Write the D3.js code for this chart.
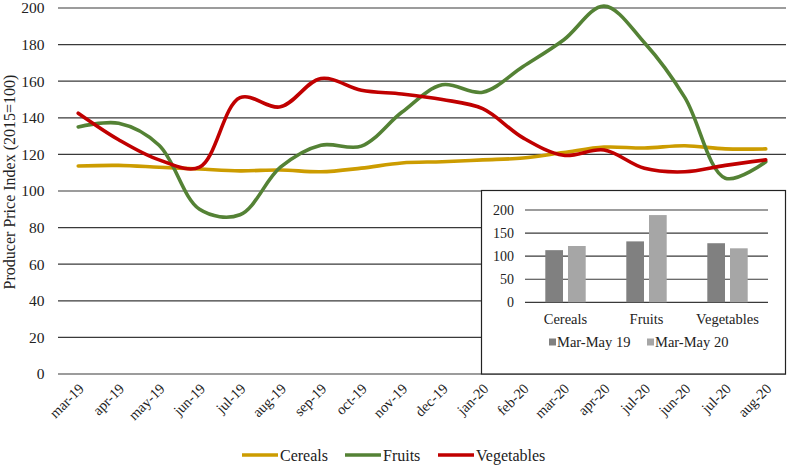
<!DOCTYPE html>
<meta charset="utf-8">
<head>
	<title>Producer Price Index</title>
	<script type="text/javascript" src="https://cdn.jsdelivr.net/npm/d3@7"></script>
	<style>
		body { margin: 0; background: #fff; }
		svg text { font-family: "Times New Roman", "Liberation Serif", Tinos, "DejaVu Serif", serif; fill: #222; }
		.grid line { stroke: #3a3a3a; stroke-width: 1.2; }
		.series { fill: none; stroke-width: 3.6; stroke-linecap: round; }
	</style>
</head>
<body>
	<div id="chart"></div>
	<script>
		// data
		var months = ["mar-19","apr-19","may-19","jun-19","jul-19","aug-19","sep-19","oct-19","nov-19",
			"dec-19","jan-20","feb-20","mar-20","apr-20","jul-20","jun-20","jul-20","aug-20"];
		var cereals = [113.7,114,113,112,111,111.5,110.5,112.5,115.3,116,117,118,121,124,123.5,124.7,123,123];
		var fruits = [135,137,125,90,87,113,125,124.5,143,158,154,168,182.5,201,181,151,107,116];
		var vegetables = [142.5,128,117,113,151,146,161.5,155,153,150,145,129,119.5,122.4,112.4,110.5,114,117];
		var yTicks = [0,20,40,60,80,100,120,140,160,180,200];

		var insetCats = ["Cereals","Fruits","Vegetables"];
		var mam19 = [113,132,128];
		var mam20 = [122,189,117];
		var insetTicks = [0,50,100,150,200];

		var series = [
			{name: "Cereals", values: cereals, color: "#CC9C00"},
			{name: "Fruits", values: fruits, color: "#548235"},
			{name: "Vegetables", values: vegetables, color: "#C00000"}
		];

		var W = 789, H = 466;
		var svg = d3.select("#chart").append("svg")
			.attr("width", W).attr("height", H);

		// main plot
		var x = d3.scalePoint().domain(d3.range(months.length)).range([58, 786]).padding(0.5);
		var y = d3.scaleLinear().domain([0, 200]).range([374, 8]);

		var grid = svg.append("g").attr("class", "grid");
		grid.selectAll("line").data(yTicks).enter().append("line")
			.attr("x1", 58).attr("x2", 786)
			.attr("y1", d => y(d)).attr("y2", d => y(d));

		svg.append("g").selectAll("text").data(yTicks).enter().append("text")
			.attr("x", 44.5).attr("y", d => y(d)).attr("dy", "0.35em")
			.attr("text-anchor", "end").style("font-size", "15.5px")
			.text(d => d);

		svg.append("text")
			.attr("transform", "translate(15,182) rotate(-90)")
			.attr("text-anchor", "middle").style("font-size", "16px")
			.text("Producer Price Index (2015=100)");

		svg.append("g").selectAll("text").data(months).enter().append("text")
			.attr("transform", (d, i) => "translate(" + (x(i) + 3) + ",386) rotate(-45)")
			.attr("text-anchor", "end").attr("dy", "0.35em")
			.style("font-size", "14.5px")
			.text(d => d);

		var line = d3.line()
			.x((d, i) => x(i))
			.y(d => y(d))
			.curve(d3.curveCatmullRom.alpha(0.5));

		svg.append("g").selectAll("path").data(series).enter().append("path")
			.attr("class", "series")
			.attr("stroke", d => d.color)
			.attr("d", d => line(d.values));

		// bottom legend
		var legX = [242, 345, 438];
		var leg = svg.append("g").selectAll("g").data(series).enter().append("g")
			.attr("transform", (d, i) => "translate(" + legX[i] + ",455)");
		leg.append("line").attr("x1", 0).attr("x2", 36).attr("y1", 0).attr("y2", 0)
			.attr("stroke", d => d.color).attr("stroke-width", 3.6);
		leg.append("text").attr("x", 38).attr("dy", "0.35em")
			.style("font-size", "16px").text(d => d.name);

		// inset bar chart
		var inset = svg.append("g");
		inset.append("rect")
			.attr("x", 481.5).attr("y", 190.5).attr("width", 304).attr("height", 183.5)
			.attr("fill", "#fff").attr("stroke", "#222").attr("stroke-width", 1.2);

		var ix = d3.scaleBand().domain(insetCats).range([525, 768]);
		var iy = d3.scaleLinear().domain([0, 200]).range([302.3, 210]);

		inset.append("g").attr("class", "grid").selectAll("line").data(insetTicks).enter().append("line")
			.attr("x1", 525).attr("x2", 768)
			.attr("y1", d => iy(d)).attr("y2", d => iy(d));

		inset.append("g").selectAll("text").data(insetTicks).enter().append("text")
			.attr("x", 514).attr("y", d => iy(d)).attr("dy", "0.35em")
			.attr("text-anchor", "end").style("font-size", "14px")
			.text(d => d);

		var bw = 17.7, gap = 5;
		var barSets = [{vals: mam19, color: "#808080", off: -bw - gap / 2}, {vals: mam20, color: "#A6A6A6", off: gap / 2}];
		barSets.forEach(function(s) {
			inset.append("g").selectAll("rect").data(s.vals).enter().append("rect")
				.attr("x", (d, i) => ix(insetCats[i]) + ix.bandwidth() / 2 + s.off)
				.attr("y", d => iy(d))
				.attr("width", bw)
				.attr("height", d => iy(0) - iy(d))
				.attr("fill", s.color);
		});

		inset.append("g").selectAll("text").data(insetCats).enter().append("text")
			.attr("x", d => ix(d) + ix.bandwidth() / 2).attr("y", 319).attr("dy", "0.35em")
			.attr("text-anchor", "middle").style("font-size", "14.5px")
			.text(d => d);

		var insetLeg = [{name: "Mar-May 19", color: "#808080", x: 549}, {name: "Mar-May 20", color: "#A6A6A6", x: 647}];
		var il = inset.append("g").selectAll("g").data(insetLeg).enter().append("g")
			.attr("transform", d => "translate(" + d.x + ",342)");
		il.append("rect").attr("x", 0).attr("y", -3.5).attr("width", 7).attr("height", 7)
			.attr("fill", d => d.color);
		il.append("text").attr("x", 8).attr("dy", "0.35em").style("font-size", "14.5px")
			.text(d => d.name);
	</script>
</body>
</html>
